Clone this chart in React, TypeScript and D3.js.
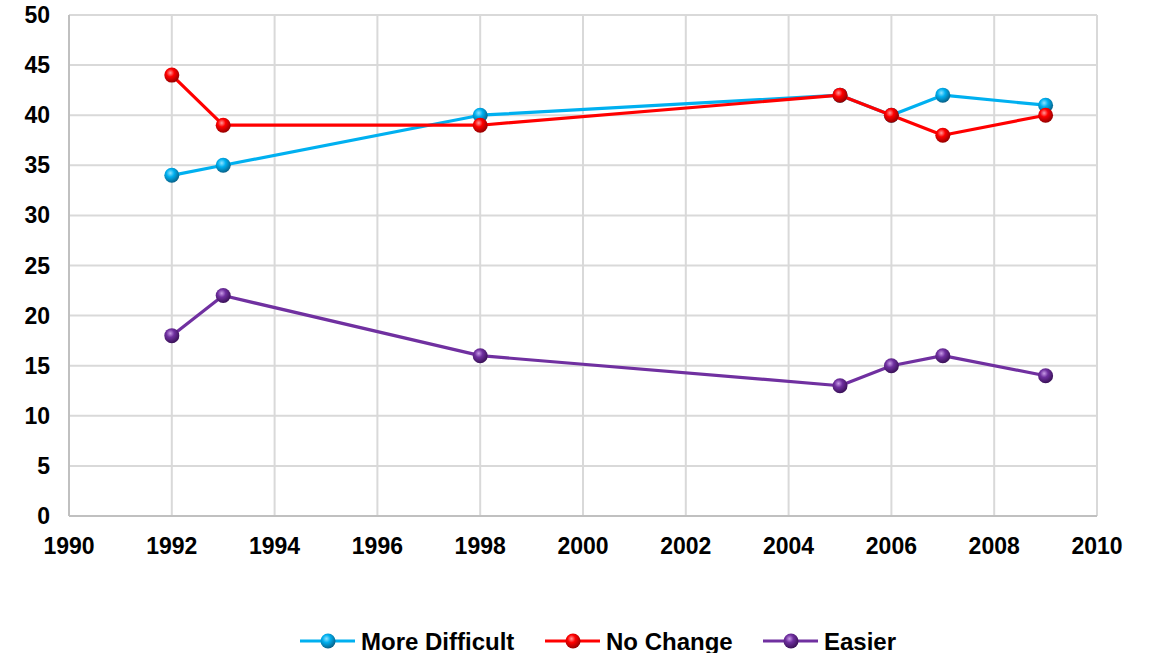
import React from 'react';
import * as d3 from 'd3';

const years = [1992, 1993, 1998, 2005, 2006, 2007, 2009];
const moreDifficult = [34, 35, 40, 42, 40, 42, 41];
const noChange = [44, 39, 39, 42, 40, 38, 40];
const easier = [18, 22, 16, 13, 15, 16, 14];
const seriesNames = ['More Difficult', 'No Change', 'Easier'];
const xTicks = [1990, 1992, 1994, 1996, 1998, 2000, 2002, 2004, 2006, 2008, 2010];
const yTicks = [0, 5, 10, 15, 20, 25, 30, 35, 40, 45, 50];

const colors = ['#00b0f0', '#ff0000', '#7030a0'];
const darks = ['#07628a', '#960000', '#3a1158'];
const lights = ['#8fe3ff', '#ff9a9a', '#c79be6'];

const W = 1153;
const H = 653;
const margin = { top: 15, right: 56, bottom: 137, left: 69 };
const font = '"Liberation Sans", Arial, sans-serif';

const App = () => {
  const x = d3.scaleLinear().domain([1990, 2010]).range([margin.left, W - margin.right]);
  const y = d3.scaleLinear().domain([0, 50]).range([H - margin.bottom, margin.top]);
  const series = [moreDifficult, noChange, easier];
  const line = d3.line<number>().x((d, i) => x(years[i])).y(d => y(d));

  const legendX = [300, 545, 763];
  const legendY = 641;

  return (
    <svg width={W} height={H} style={{ position: 'absolute', left: 0, top: 0, background: '#fff' }}>
      <defs>
        {colors.map((c, i) => (
          <radialGradient key={i} id={`ball${i}`} cx="40%" cy="35%" r="65%">
            <stop offset="0%" stopColor={lights[i]} />
            <stop offset="40%" stopColor={c} />
            <stop offset="100%" stopColor={darks[i]} />
          </radialGradient>
        ))}
      </defs>

      {/* grid */}
      {yTicks.map(t => (
        <line key={'h' + t} x1={x(1990)} x2={x(2010)} y1={y(t)} y2={y(t)} stroke="#d9d9d9" strokeWidth={2} />
      ))}
      {xTicks.map(t => (
        <line key={'v' + t} x1={x(t)} x2={x(t)} y1={y(0)} y2={y(50)} stroke="#d9d9d9" strokeWidth={2} />
      ))}
      <line x1={x(1990)} x2={x(1990)} y1={y(0)} y2={y(50)} stroke="#c0c0c0" strokeWidth={2} />
      <line x1={x(1990)} x2={x(2010)} y1={y(0)} y2={y(0)} stroke="#c0c0c0" strokeWidth={2} />

      {/* tick labels */}
      {yTicks.map(t => (
        <text key={'yl' + t} x={50} y={y(t) + 8} textAnchor="end" fontFamily={font} fontWeight="bold" fontSize={23} fill="#000">
          {t}
        </text>
      ))}
      {xTicks.map(t => (
        <text key={'xl' + t} x={x(t)} y={554} textAnchor="middle" fontFamily={font} fontWeight="bold" fontSize={23} fill="#000">
          {t}
        </text>
      ))}

      {/* series */}
      {series.map((s, i) => (
        <g key={'s' + i}>
          <path d={line(s) || ''} fill="none" stroke={colors[i]} strokeWidth={3.2} strokeLinejoin="round" />
          {s.map((v, j) => (
            <circle key={j} cx={x(years[j])} cy={y(v)} r={7.5} fill={`url(#ball${i})`} />
          ))}
        </g>
      ))}

      {/* legend */}
      {seriesNames.map((n, i) => (
        <g key={'lg' + i}>
          <line x1={legendX[i]} x2={legendX[i] + 55} y1={legendY} y2={legendY} stroke={colors[i]} strokeWidth={3.2} />
          <circle cx={legendX[i] + 28} cy={legendY} r={7.5} fill={`url(#ball${i})`} />
          <text x={legendX[i] + 61} y={legendY + 9} fontFamily={font} fontWeight="bold" fontSize={24} fill="#000">
            {n}
          </text>
        </g>
      ))}
    </svg>
  );
};

export default App;
